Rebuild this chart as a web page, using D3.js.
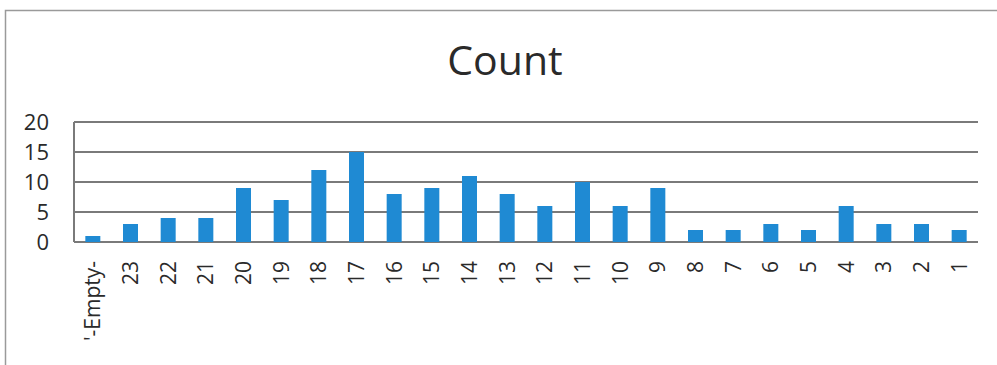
<!DOCTYPE html>
<html>
<head>
<meta charset="utf-8">
<script src="https://cdn.jsdelivr.net/npm/d3@7"></script>
<style>
  html, body { margin: 0; padding: 0; background: #fff; }
  svg { display: block; }
</style>
</head>
<body>
<svg id="chart" width="997" height="365"></svg>
<script>
// Category labels along the x axis, in display order
const categories = ["'-Empty-", "23", "22", "21", "20", "19", "18", "17", "16", "15", "14", "13",
  "12", "11", "10", "9", "8", "7", "6", "5", "4", "3", "2", "1"];
// Count per category
const counts = [1, 3, 4, 4, 9, 7, 12, 15, 8, 9, 11, 8, 6, 10, 6, 9, 2, 2, 3, 2, 6, 3, 3, 2];
// Y axis ticks
const yTicks = [0, 5, 10, 15, 20];
const chartTitle = "Count";

const svg = d3.select("#chart");
const W = 997, H = 365;
const plot = { left: 74, right: 978, top: 122, bottom: 242 };
const font = "Open Sans, Noto Sans, sans-serif";

// Outer chart frame (left and top edges)
svg.append("path")
  .attr("d", `M5.5,${H} L5.5,10.5 L${W},10.5`)
  .attr("fill", "none")
  .attr("stroke", "#9a9a9a")
  .attr("stroke-width", 1.5);

svg.append("text")
  .attr("x", 505)
  .attr("y", 75)
  .attr("text-anchor", "middle")
  .attr("font-family", font)
  .attr("font-size", 41)
  .attr("fill", "#2a2a2a")
  .text(chartTitle);

const x = d3.scaleBand()
  .domain(categories)
  .range([plot.left, plot.right])
  .paddingInner(0.6)
  .paddingOuter(0.3);

const y = d3.scaleLinear()
  .domain([0, 20])
  .range([plot.bottom, plot.top]);

// Horizontal gridlines
svg.append("g")
  .selectAll("line")
  .data(yTicks)
  .join("line")
  .attr("x1", plot.left)
  .attr("x2", plot.right)
  .attr("y1", d => y(d))
  .attr("y2", d => y(d))
  .attr("stroke", "#7a7a7a")
  .attr("stroke-width", 2);

// Vertical value axis line
svg.append("line")
  .attr("x1", plot.left)
  .attr("x2", plot.left)
  .attr("y1", plot.top)
  .attr("y2", plot.bottom)
  .attr("stroke", "#7a7a7a")
  .attr("stroke-width", 2);

// Bars
svg.append("g")
  .selectAll("rect")
  .data(categories.map((c, i) => ({ c, v: counts[i] })))
  .join("rect")
  .attr("x", d => x(d.c) + (x.bandwidth() - 15) / 2)
  .attr("width", 15)
  .attr("y", d => y(d.v))
  .attr("height", d => y(0) - y(d.v))
  .attr("fill", "#1f8ad3");

// Y axis tick labels
const yAxis = d3.axisLeft(y).tickValues(yTicks).tickSize(0).tickPadding(0);
const yg = svg.append("g")
  .attr("transform", `translate(49,0)`)
  .call(yAxis);
yg.select(".domain").remove();
yg.selectAll("text")
  .attr("font-family", font)
  .attr("font-size", 22)
  .attr("fill", "#2a2a2a")
  .attr("dy", "0.35em");

// X axis category labels, rotated
const xAxis = d3.axisBottom(x).tickSize(0).tickPadding(0);
const xg = svg.append("g")
  .attr("transform", `translate(0,${plot.bottom})`)
  .call(xAxis);
xg.select(".domain").remove();
xg.selectAll("text")
  .attr("font-family", font)
  .attr("font-size", 21)
  .attr("fill", "#2a2a2a")
  .attr("text-anchor", "end")
  .attr("transform", "rotate(-90)")
  .attr("x", -19)
  .attr("y", 0)
  .attr("dy", "0.35em");
</script>
</body>
</html>
